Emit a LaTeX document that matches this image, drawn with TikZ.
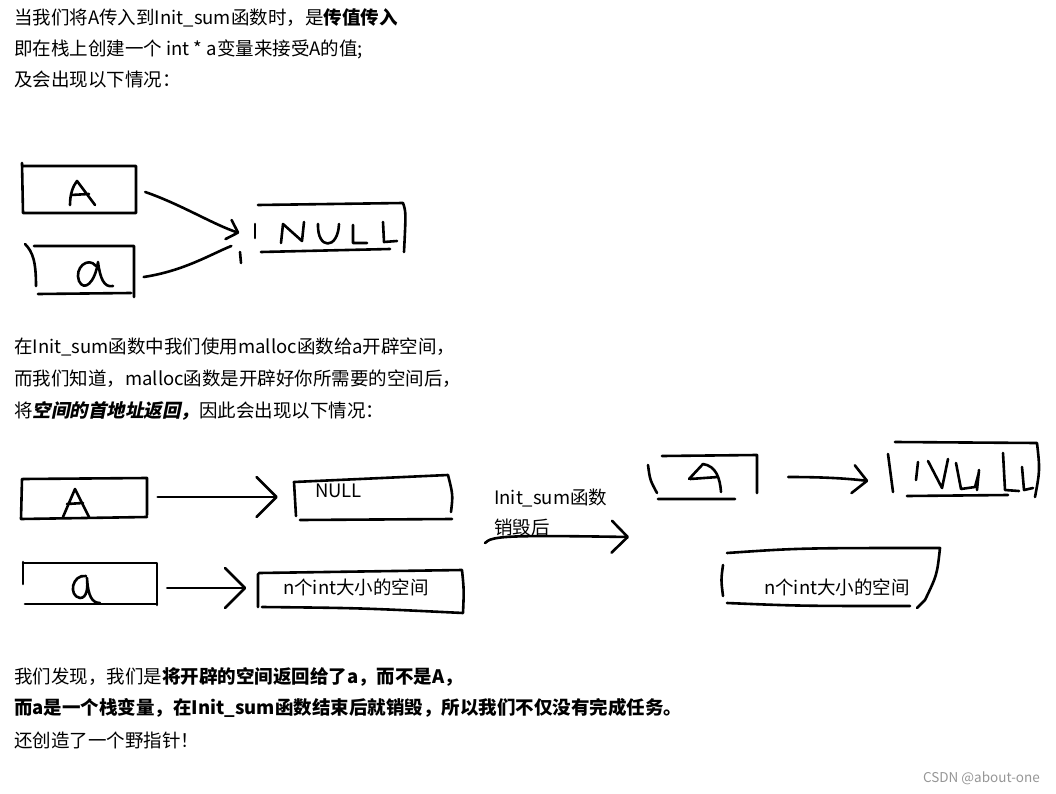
\documentclass[tikz,border=0pt]{standalone}
\usepackage{fontspec}
\setmainfont{Noto Sans CJK SC}
\newfontfamily\slantfont{Noto Sans CJK SC}[FakeSlant=0.2]
\usetikzlibrary{arrows.meta}
\definecolor{markgray}{RGB}{150,150,150}

\begin{document}
\begin{tikzpicture}[x=1pt,y=-1pt,line join=round,line cap=round,
    every node/.style={font=\fontsize{18.5}{30}\selectfont},
    sketch/.style={line width=2.6pt},
    para/.style={anchor=west,inner sep=0pt},
    slot/.style={inner sep=0pt},
    barb/.style={-{Straight Barb[round,length=#1]}}]
    \useasboundingbox (0,0) rectangle (1056,794);
    % text of the post
    \node[para] (l1) at (14,18) {当我们将A传入到Init\_sum函数时，是\textbf{传值传入}};
    \node[para] (l2) at (14,49) {即在栈上创建一个 int * a变量来接受A的值;};
    \node[para] (l3) at (14,80) {及会出现以下情况：};
    \node[para] (l4) at (14,347) {在Init\_sum函数中我们使用malloc函数给a开辟空间，};
    \node[para] (l5) at (14,379) {而我们知道，malloc函数是开辟好你所需要的空间后，};
    \node[para] (l6) at (14,411) {将{\slantfont\bfseries 空间的首地址返回，}因此会出现以下情况：};
    \node[para] (l7) at (14,677) {我们发现，我们是\textbf{将开辟的空间返回给了a，而不是A，}};
    \node[para] (l8) at (14,708) {\textbf{而a是一个栈变量，在Init\_sum函数结束后就销毁，所以我们不仅没有完成任务。}};
    \node[para] (l9) at (14,740) {还创造了一个野指针！};
    \node[anchor=east,inner sep=0pt,text=markgray,font=\fontsize{13.5}{15}\selectfont] (wm) at (1040,778) {CSDN @about-one};

    % first sketch: A and a share NULL
    \node[slot,minimum width=114pt,minimum height=47pt] (A1) at (79,190) {};
    \node[slot,minimum width=109pt,minimum height=49pt] (a1) at (80,270) {};
    \node[slot,minimum width=147pt,minimum height=48pt] (N1) at (330,228) {};
    \draw[sketch] (22,163) -- (23,213) -- (136,213) -- (136,166) -- (22,166);
    \draw[sketch] (70,205) .. controls (70,194) and (73,186) .. (77,181) -- (95,205) (71,195) -- (89,194);
    \draw[sketch] (25,244) .. controls (33,252) and (36,262) .. (36,286);
    \draw[sketch] (34,246) -- (134,246) -- (134,297) (38,294) -- (131,293);
    \draw[sketch] (96,266) .. controls (88,256) and (74,268) .. (79,281) .. controls (84,292) and (95,283) .. (98,262) .. controls (100,278) and (104,288) .. (113,286);
    \draw[sketch] (255,224) -- (255,238);
    \draw[sketch] (258,205) -- (403,203) .. controls (406,212) .. (404,252) (261,252) -- (390,249);
    \draw[sketch] (281,243) -- (283,224) -- (302,241) -- (304,222)
      (318,224) .. controls (317,250) and (338,250) .. (339,224)
      (353,225) -- (353,243) -- (367,243)
      (383,222) -- (384,242) -- (397,241);
    \draw[sketch,barb=10pt] ([shift={(9,2)}]A1.east) .. controls +(35,12) and +(-25,-8) .. ([shift={(-17,5)}]N1.west);
    \draw[sketch] ([shift={(9,7)}]a1.east) .. controls +(40,-6) and +(-20,8) .. ([shift={(-25,18)}]N1.west);
    \draw[sketch] (240,252) -- (241,263);

    % second sketch: after malloc
    \node[slot,minimum width=125pt,minimum height=40pt] (A2) at (84,499) {};
    \node[slot,minimum width=156pt,minimum height=42pt] (N2) at (373,498) {};
    \node[slot,minimum width=134pt,minimum height=42pt] (a2) at (90,584) {};
    \node[slot,minimum width=205pt,minimum height=40pt] (n2) at (360,591) {};
    \draw[sketch] (23,479) -- (147,478) -- (147,515) (22,479) -- (21,519) -- (147,517);
    \draw[sketch] (63,517) -- (75,489) -- (89,517) (67,504) -- (83,503);
    \draw[sketch] (296,516) -- (294,482) -- (448,475) .. controls (453,495) .. (451,512) (300,520) -- (452,519);
    \node[para] (nul2) at (315,491) {NULL};
    \draw[sketch] (23,562) -- (23,584) (23,563) -- (157,563) -- (157,605) (25,604) -- (157,604);
    \draw[sketch] (86,576) .. controls (72,574) and (68,596) .. (80,598) .. controls (87,598) and (88,588) .. (87,578) .. controls (88,596) and (92,603) .. (100,603);
    \draw[sketch] (258,574) -- (258,607) (259,573) -- (462,570) .. controls (464,590) .. (463,613) (262,607) .. controls (360,608) .. (463,613);
    \node (txt2) at (356,587) {n个int大小的空间};
    \draw[sketch,barb=20pt] ([shift={(11,-2)}]A2.east) -- ([shift={(-17,-1)}]N2.west);
    \draw[sketch,barb=20pt] ([shift={(10,4)}]a2.east) -- ([shift={(-11,-3)}]n2.west);

    % after Init_sum is gone
    \node[para,align=left] (note) at (494,512) {Init\_sum函数\\销毁后};
    \coordinate (gone) at (485,543);
    \coordinate (after) at (629,537);
    \draw[sketch,barb=16pt] (gone) .. controls (492,536) and (505,535) .. (after);

    % third sketch: A still NULL, space left behind
    \node[slot,minimum width=110pt,minimum height=45pt] (A3) at (703,477) {};
    \node[slot,minimum width=147pt,minimum height=55pt] (N3) at (964,470) {};
    \node[slot,minimum width=218pt,minimum height=60pt] (n3) at (832,578) {};
    \draw[sketch] (648,465) .. controls (650,480) .. (657,493) (662,456) -- (757,455) -- (757,493) (658,499) -- (735,499);
    \draw[sketch] (689,479) -- (703,464) .. controls (716,466) and (720,478) .. (721,492) (690,479) -- (718,477);
    \draw[sketch] (888,454) -- (893,492) (895,442) -- (1037,443) .. controls (1040,470) .. (1035,497) (907,496) -- (1008,495);
    \draw[sketch] (916,480) -- (918,462)
      (928,461) -- (942,488) -- (948,459)
      (956,463) -- (961,489) -- (975,487) -- (979,472) (979,470) -- (977,490)
      (1003,453) -- (1005,490) -- (1019,491)
      (1022,467) -- (1024,490) -- (1033,488);
    \draw[sketch,barb=14pt] ([shift={(30,0)}]A3.east) .. controls +(30,0) and +(-25,-3) .. ([shift={(-22,11)}]N3.west);
    \draw[sketch] (723,565) .. controls (721,580) .. (723,596) (727,553) .. controls (800,548) .. (940,548) .. controls (937,575) .. (925,600) -- (917,608) (727,603) .. controls (800,606) .. (910,606);
    \node (txt3) at (837,587) {n个int大小的空间};
\end{tikzpicture}
\end{document}
